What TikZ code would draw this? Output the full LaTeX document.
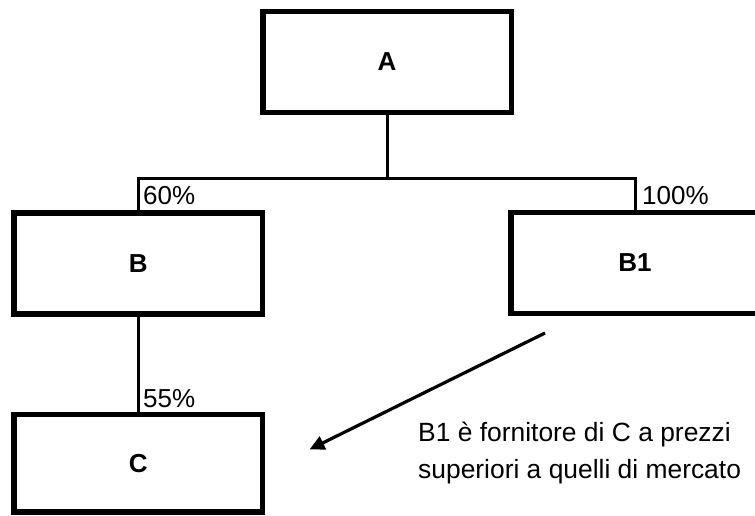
\documentclass[tikz,border=0pt]{standalone}
\usepackage{fontspec}
\setmainfont{Liberation Sans}
\usetikzlibrary{arrows.meta}
\begin{document}
\begin{tikzpicture}[x=1pt,y=-1pt,
  box/.style={draw=black,line width=5.5pt,minimum width=248.5pt,minimum height=101pt,inner sep=0pt,font=\fontsize{26}{30}\selectfont\bfseries},
  conn/.style={draw=black,line width=3pt},
  pct/.style={anchor=base west,inner sep=0pt,font=\fontsize{26}{30}\selectfont},
  note/.style={anchor=base west,inner sep=0pt,font=\fontsize{26.4}{36}\selectfont},
  arr/.style={draw=black,line width=3.2pt,-{Triangle[length=15pt,width=14pt]}}]
\useasboundingbox (0,0) rectangle (755,515);
\clip (0,0) rectangle (755,515);
\node[box] (A) at (387,62) {A};
\node[box] (B) at (138.25,263.25) {B};
\node[box] (B1) at (635,263) {B1};
\node[box,minimum height=97.5pt] (C) at (138.25,463.25) {C};
\coordinate (j) at (387,178);
\draw[conn] (A.south) -- (j);
\draw[conn] (B.north) -- (B.north |- j) -- (B1.north |- j) -- (B1.north);
\draw[conn] (B.south) -- (C.north);
\node[pct] (p60) at (143,204) {60\%};
\node[pct] (p100) at (642,204) {100\%};
\node[pct] (p55) at (143,407.5) {55\%};
\coordinate (as) at (545,333);
\coordinate (ae) at (309.5,449.5);
\draw[arr] (as) -- (ae);
\node[note] (t1) at (418,441.5) {B1 è fornitore di C a prezzi};
\node[note] (t2) at (418,478) {superiori a quelli di mercato};
\end{tikzpicture}
\end{document}
